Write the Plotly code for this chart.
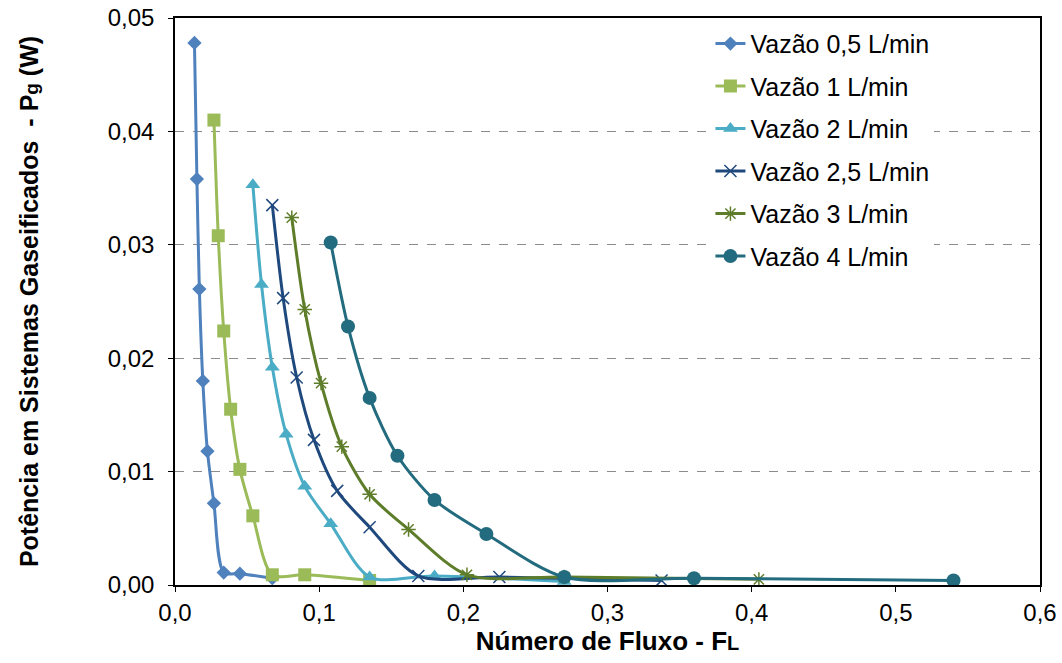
import plotly.graph_objects as go

# Número de Fluxo (F_L) per series
x_05 = [0.0135, 0.0152, 0.0169, 0.0193, 0.0225, 0.0270, 0.0338, 0.0450, 0.0675]
x_1 = [0.0270, 0.0300, 0.0338, 0.0386, 0.0450, 0.0540, 0.0675, 0.0900, 0.1350]
x_2 = [0.0540, 0.0600, 0.0675, 0.0771, 0.0900, 0.1080, 0.1350, 0.1800, 0.2700]
x_25 = [0.0675, 0.0750, 0.0844, 0.0964, 0.1125, 0.1350, 0.1688, 0.2250, 0.3375]
x_3 = [0.0810, 0.0900, 0.1013, 0.1157, 0.1350, 0.1620, 0.2025, 0.2700, 0.4050]
x_4 = [0.1080, 0.1200, 0.1350, 0.1543, 0.1800, 0.2160, 0.2700, 0.3600, 0.5400]

# Potência (W)
y_05 = [0.0478, 0.0358, 0.0261, 0.0180, 0.0118, 0.0072, 0.0011, 0.0010, 0.0006]
y_1 = [0.0410, 0.0308, 0.0224, 0.0155, 0.0102, 0.0061, 0.0009, 0.0009, 0.0004]
y_2 = [0.0353, 0.0265, 0.0192, 0.0133, 0.0087, 0.0054, 0.0007, 0.0008, 0.0003]
y_25 = [0.0335, 0.0253, 0.0183, 0.0128, 0.0083, 0.0051, 0.0008, 0.0007, 0.0004]
y_3 = [0.0324, 0.0243, 0.0178, 0.0122, 0.0080, 0.0049, 0.0009, 0.0007, 0.0005]
y_4 = [0.0302, 0.0228, 0.0165, 0.0114, 0.0075, 0.0045, 0.0007, 0.0006, 0.0004]

names = ["Vazão 0,5 L/min", "Vazão 1 L/min", "Vazão 2 L/min",
         "Vazão 2,5 L/min", "Vazão 3 L/min", "Vazão 4 L/min"]
colors = ["#4F81BD", "#9BBB59", "#4BACC6", "#1F497D", "#5E7D2A", "#236B7E"]
symbols = ["diamond", "square", "triangle-up", "x-thin", "asterisk", "circle"]
msizes = [11, 13, 13, 12, 12, 14]

xs = [x_05, x_1, x_2, x_25, x_3, x_4]
ys = [y_05, y_1, y_2, y_25, y_3, y_4]

fig = go.Figure()
for i in range(6):
    open_sym = symbols[i] in ("x-thin", "asterisk")
    fig.add_trace(go.Scatter(
        x=xs[i], y=ys[i], name=names[i], mode="lines+markers",
        legendgroup=f"g{i}",
        line=dict(color=colors[i], width=3, shape="spline", smoothing=0.8),
        marker=dict(symbol=symbols[i], size=msizes[i], color=colors[i],
                    line=dict(color=colors[i], width=1.5 if open_sym else 0)),
    ))

font_family = "Liberation Sans, Arial, sans-serif"
fig.update_layout(
    width=1062, height=663,
    margin=dict(l=175, r=22, t=18, b=78),
    paper_bgcolor="white", plot_bgcolor="white",
    separators=",.",
    font=dict(family=font_family, color="black", size=24),
    legend=dict(x=0.619, y=0.995, xanchor="left", yanchor="top",
                bgcolor="white", font=dict(size=25, color="black"),
                tracegroupgap=7, traceorder="grouped", itemwidth=30),
    xaxis=dict(range=[0, 0.6], dtick=0.1, tickformat=".1f", automargin=False,
               showline=True, linecolor="black", linewidth=1.5, mirror=True,
               ticks="outside", ticklen=5, tickcolor="black",
               ticklabeloverflow="allow",
               showgrid=False, zeroline=False,
               title=dict(text="<b>Número de Fluxo - F<span style='font-size:20px'>L</span></b>",
                          font=dict(size=26), standoff=7)),
    yaxis=dict(range=[0, 0.05], dtick=0.01, tickformat=".2f", automargin=False,
               showline=True, linecolor="black", linewidth=1.5, mirror=True,
               ticks="outside", ticklen=5, tickcolor="black", ticklabelstandoff=9,
               ticklabeloverflow="allow",
               showgrid=True, gridcolor="#8C8C8C", griddash="dash", gridwidth=1,
               zeroline=False,
               title=dict(text="<b>Potência em Sistemas Gaseificados  - P<span style='font-size:19px'>g</span> (W)</b>",
                          font=dict(size=25), standoff=62)),
)

fig.write_html("out.html", config={"displayModeBar": False},
               post_script="document.body.style.margin='0';document.body.style.overflow='hidden';")
